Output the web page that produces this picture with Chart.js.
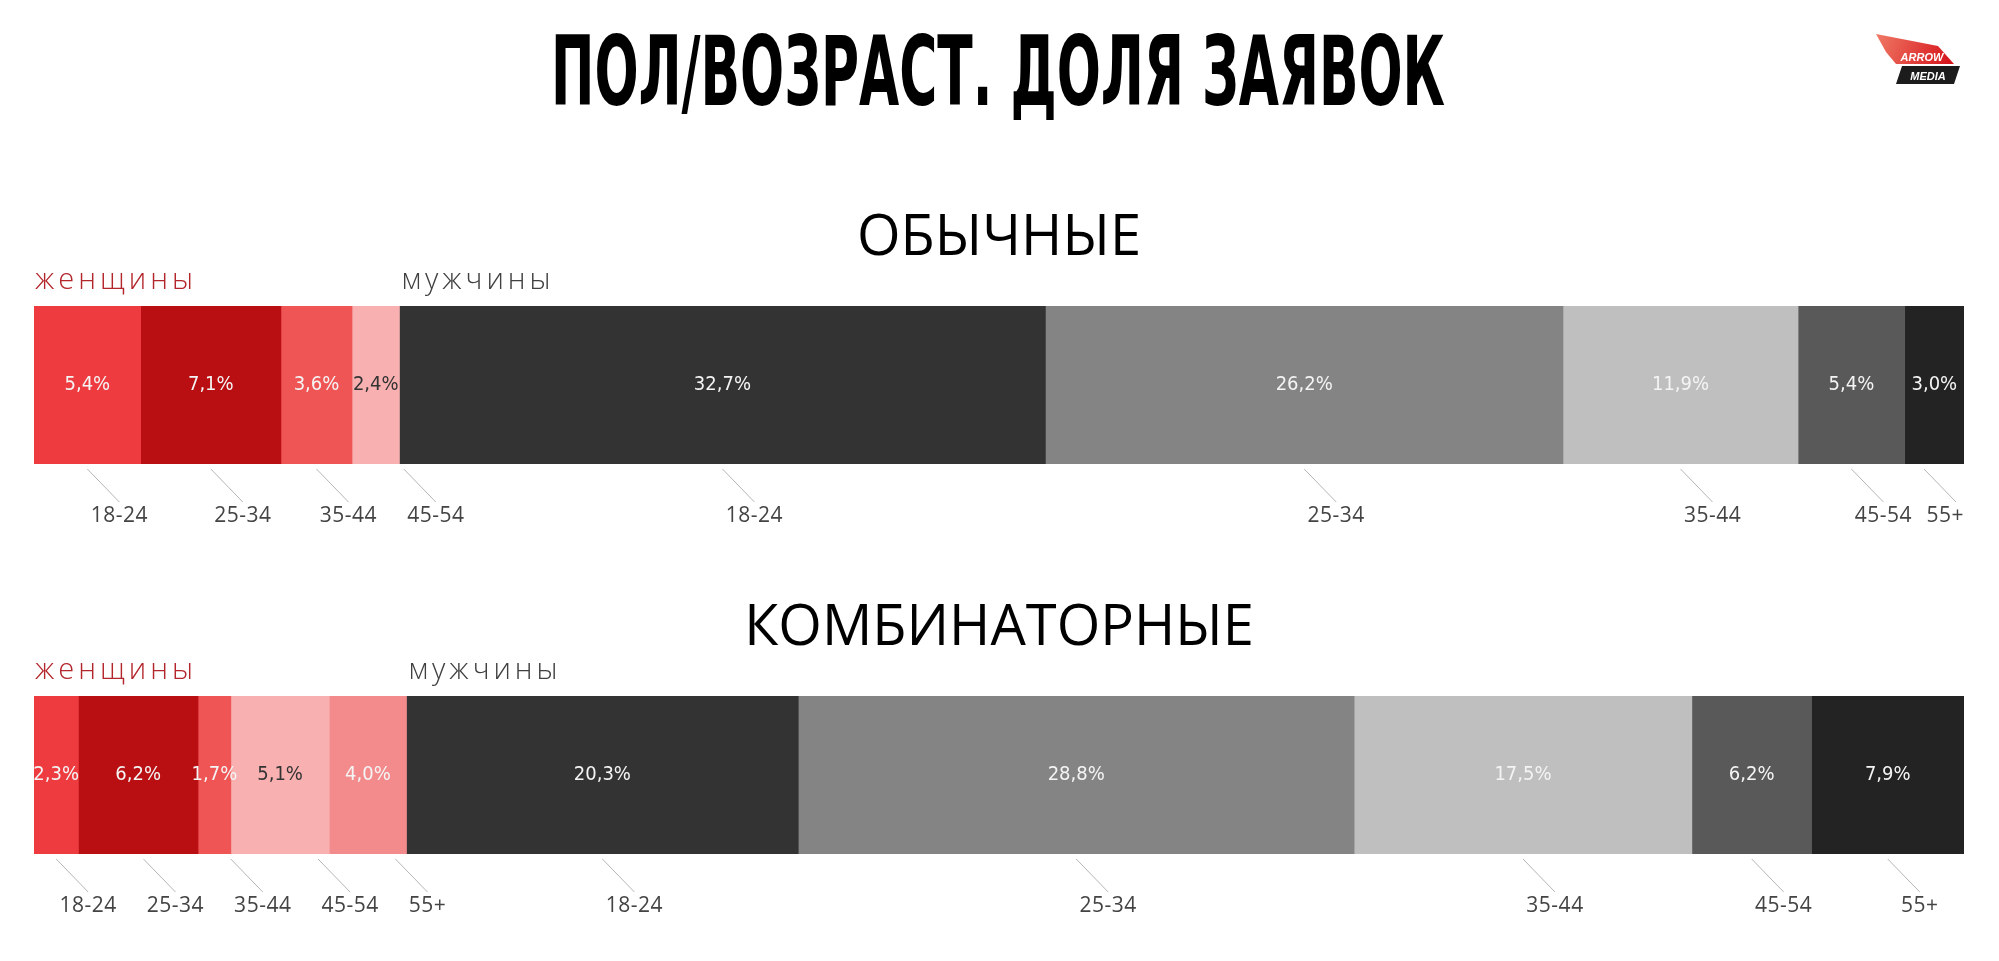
<!DOCTYPE html>
<html>
<head>
<meta charset="utf-8">
<script src="https://cdn.jsdelivr.net/npm/chart.js@4"></script>
<style>
    html, body { margin: 0; background: #fff; }
    body { width: 1999px; height: 961px; position: relative; overflow: hidden; }
    canvas { position: absolute; left: 0; }
    #head { top: 0; }
    #regular-chart { top: 190px; }
    #combo-chart { top: 580px; }
</style>
</head>
<body>
<canvas id="head" width="1999" height="170"></canvas>
<canvas id="regular-chart" width="1999" height="360"></canvas>
<canvas id="combo-chart" width="1999" height="360"></canvas>
<script>
(()=>{
    // age groups (same order for women and men)
    const ages = ['18-24', '25-34', '35-44', '45-54', '55+'];

    // "обычные" requests, % share
    const regularWomen = [5.4, 7.1, 3.6, 2.4];
    const regularMen = [32.7, 26.2, 11.9, 5.4, 3.0];

    // "комбинаторные" requests, % share
    const comboWomen = [2.3, 6.2, 1.7, 5.1, 4.0];
    const comboMen = [20.3, 28.8, 17.5, 6.2, 7.9];

    const womenColors = ['#ee3b40', '#b90f12', '#f05556', '#f8b0b1', '#f38a8b'];
    const womenText = ['#f4f4f4', '#f4f4f4', '#f4f4f4', '#333333', '#f4f4f4'];
    const menColors = ['#333333', '#848484', '#bfbfbf', '#595959', '#232323'];
    const menText = ['#f4f4f4', '#f4f4f4', '#f4f4f4', '#f4f4f4', '#f4f4f4'];

    const fmt = v => v.toFixed(1).replace('.', ',') + '%';

    const buildDatasets = (women, men) => [
        ...women.map((v, i) => ({
            label: 'женщины ' + ages[i], sex: 'f', age: ages[i], data: [v],
            backgroundColor: womenColors[i], textColor: womenText[i]
        })),
        ...men.map((v, i) => ({
            label: 'мужчины ' + ages[i], sex: 'm', age: ages[i], data: [v],
            backgroundColor: menColors[i], textColor: menText[i]
        }))
    ];

    // values inside the bar, age tags with leader lines under it, headers above
    const segmentLabels = {
        id: 'segmentLabels',
        afterDraw(chart, args, opts) {
            const {ctx, chartArea: area} = chart;
            const sets = chart.data.datasets;
            const bars = sets.map((ds, i) => chart.getDatasetMeta(i).data[0]);
            ctx.save();

            // section title
            ctx.fillStyle = '#000';
            ctx.font = '56px "Open Sans"';
            ctx.textAlign = 'center';
            ctx.textBaseline = 'alphabetic';
            ctx.fillText(opts.title, (area.left + area.right) / 2, area.top - 51);

            // женщины / мужчины
            ctx.font = '300 29px "Open Sans"';
            ctx.letterSpacing = '4px';
            ctx.textAlign = 'left';
            const firstMan = sets.findIndex(ds => ds.sex === 'm');
            ctx.fillStyle = '#b3262b';
            ctx.fillText('женщины', area.left + 1, area.top - 17);
            ctx.fillStyle = '#404040';
            ctx.fillText('мужчины', bars[firstMan].base + 2, area.top - 17);
            ctx.letterSpacing = '0px';

            // values
            ctx.font = '20px "Liberation Sans Narrow", "DejaVu Sans Condensed", sans-serif';
            ctx.textAlign = 'center';
            ctx.textBaseline = 'middle';
            bars.forEach((bar, i) => {
                ctx.fillStyle = sets[i].textColor;
                ctx.fillText(fmt(sets[i].data[0]), (bar.base + bar.x) / 2, bar.y);
            });

            // age tags
            ctx.font = '21px "Open Sans"';
            ctx.letterSpacing = '0.5px';
            ctx.strokeStyle = '#b5b5b5';
            ctx.lineWidth = 1;
            let prevRight = -Infinity;
            bars.forEach((bar, i) => {
                const mid = (bar.base + bar.x) / 2;
                const w = ctx.measureText(sets[i].age).width;
                const cx = Math.max(mid + 32, prevRight + 30 + w / 2);
                prevRight = cx + w / 2;
                const lx = Math.min(cx, area.right - 8);
                ctx.beginPath();
                ctx.moveTo(lx - 32, area.bottom + 5);
                ctx.lineTo(lx, area.bottom + 38);
                ctx.stroke();
                ctx.fillStyle = '#444';
                ctx.fillText(sets[i].age, Math.min(cx, area.right - w / 2), area.bottom + 52);
            });
            ctx.restore();
        }
    };

    const makeChart = (id, title, women, men) => {
        const total = [...women, ...men].reduce((a, b) => a + b, 0);
        return new Chart(document.getElementById(id), {
            type: 'bar',
            data: {
                labels: [title],
                datasets: buildDatasets(women, men)
            },
            options: {
                indexAxis: 'y',
                responsive: false,
                animation: false,
                layout: {
                    padding: {top: 116, bottom: 86, left: 34, right: 35}
                },
                datasets: {
                    bar: {barPercentage: 1, categoryPercentage: 1, borderWidth: 0}
                },
                scales: {
                    x: {stacked: true, display: false, min: 0, max: total},
                    y: {stacked: true, display: false}
                },
                plugins: {
                    legend: {display: false},
                    tooltip: {enabled: false},
                    segmentLabels: {title: title}
                }
            },
            plugins: [segmentLabels]
        });
    };

    // page heading + logo
    const head = document.getElementById('head').getContext('2d');
    const fitText = (ctx, text, font, cx, baseline, width, capH) => {
        ctx.save();
        ctx.font = font;
        const tw = ctx.measureText(text).width;
        const ch = ctx.measureText('Н').actualBoundingBoxAscent;
        ctx.translate(cx, baseline);
        ctx.scale(width / tw, capH / ch);
        ctx.textAlign = 'center';
        ctx.textBaseline = 'alphabetic';
        ctx.fillText(text, 0, 0);
        ctx.restore();
    };
    head.fillStyle = '#000';
    fitText(head, 'ПОЛ/ВОЗРАСТ. ДОЛЯ ЗАЯВОК',
        'bold 100px "Liberation Sans Narrow", "DejaVu Sans Condensed", sans-serif',
        998, 105, 894, 70);

    const poly = (pts, fill) => {
        head.beginPath();
        pts.forEach(([x, y], i) => i ? head.lineTo(x, y) : head.moveTo(x, y));
        head.closePath();
        head.fillStyle = fill;
        head.fill();
    };
    const grad = head.createLinearGradient(1876, 34, 1950, 64);
    grad.addColorStop(0, '#f07a66');
    grad.addColorStop(1, '#d6141b');
    poly([[1876, 34], [1938, 46], [1954, 64], [1896, 64], [1886, 52]], grad);
    poly([[1902, 66], [1960, 66], [1954, 84], [1896, 84]], '#1c1c1c');
    head.fillStyle = '#fff';
    head.textAlign = 'center';
    head.textBaseline = 'alphabetic';
    head.font = 'italic bold 11px "Liberation Sans", sans-serif';
    head.fillText('ARROW', 1922, 61);
    head.fillText('MEDIA', 1928, 80);

    makeChart('regular-chart', 'ОБЫЧНЫЕ', regularWomen, regularMen);
    makeChart('combo-chart', 'КОМБИНАТОРНЫЕ', comboWomen, comboMen);
})()
</script>
</body>
</html>
